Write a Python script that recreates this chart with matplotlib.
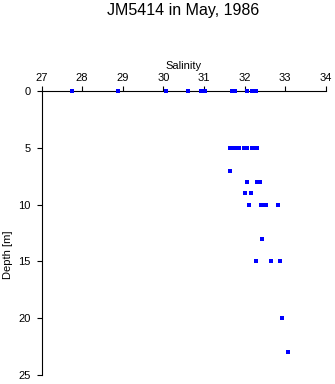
import matplotlib
matplotlib.use("Agg")
import matplotlib.pyplot as plt
import numpy as np

plt.rcParams["font.family"] = ["Liberation Sans", "DejaVu Sans"]

# salinity / depth samples
salinity = [
    27.75, 28.89, 30.06, 30.61, 30.93, 31.03, 31.70, 31.76, 32.07, 32.18, 32.29,
    31.65, 31.72, 31.80, 31.87, 31.98, 32.06, 32.18, 32.25, 32.32,
    31.64,
    32.05, 32.30, 32.38,
    32.02, 32.16,
    32.12, 32.41, 32.49, 32.53, 32.83,
    32.44,
    32.29, 32.66, 32.87,
    32.93,
    33.07,
]
depth = [
    0, 0, 0, 0, 0, 0, 0, 0, 0, 0, 0,
    5, 5, 5, 5, 5, 5, 5, 5, 5,
    7,
    8, 8, 8,
    9, 9,
    10, 10, 10, 10, 10,
    13,
    15, 15, 15,
    20,
    23,
]
x_ticks = [27, 28, 29, 30, 31, 32, 33, 34]
y_ticks = [0, 5, 10, 15, 20, 25]

fig = plt.figure(figsize=(3.35, 3.84), dpi=100)
ax = fig.add_axes([41.5 / 335, 1 - 375 / 384, (325.7 - 41.5) / 335, (375 - 91) / 384])

ax.plot(salinity, depth, linestyle="none", marker="s", markersize=2.2,
        color="#0000ff", markeredgewidth=0, zorder=3, clip_on=False)

ax.set_xlim(27, 34)
ax.set_ylim(25, 0)
ax.set_xticks(x_ticks)
ax.set_yticks(y_ticks)
ax.xaxis.tick_top()
ax.xaxis.set_label_position("top")
ax.tick_params(axis="x", direction="out", length=3.6, width=0.8, pad=2, labelsize=8)
ax.tick_params(axis="y", direction="out", length=3.6, width=0.8, pad=4, labelsize=8)
for side in ["right", "bottom"]:
    ax.spines[side].set_visible(False)
for side in ["left", "top"]:
    ax.spines[side].set_linewidth(0.8)

ax.set_xlabel("Salinity", fontsize=8, labelpad=3)
ax.set_ylabel("Depth [m]", fontsize=8)
ax.yaxis.set_label_coords(-0.099, 0.4225)

fig.text(182.8 / 335, 1 - 10.5 / 384, "JM5414 in May, 1986", ha="center", va="center", fontsize=11.5)

fig.savefig("out.png", dpi=100)
